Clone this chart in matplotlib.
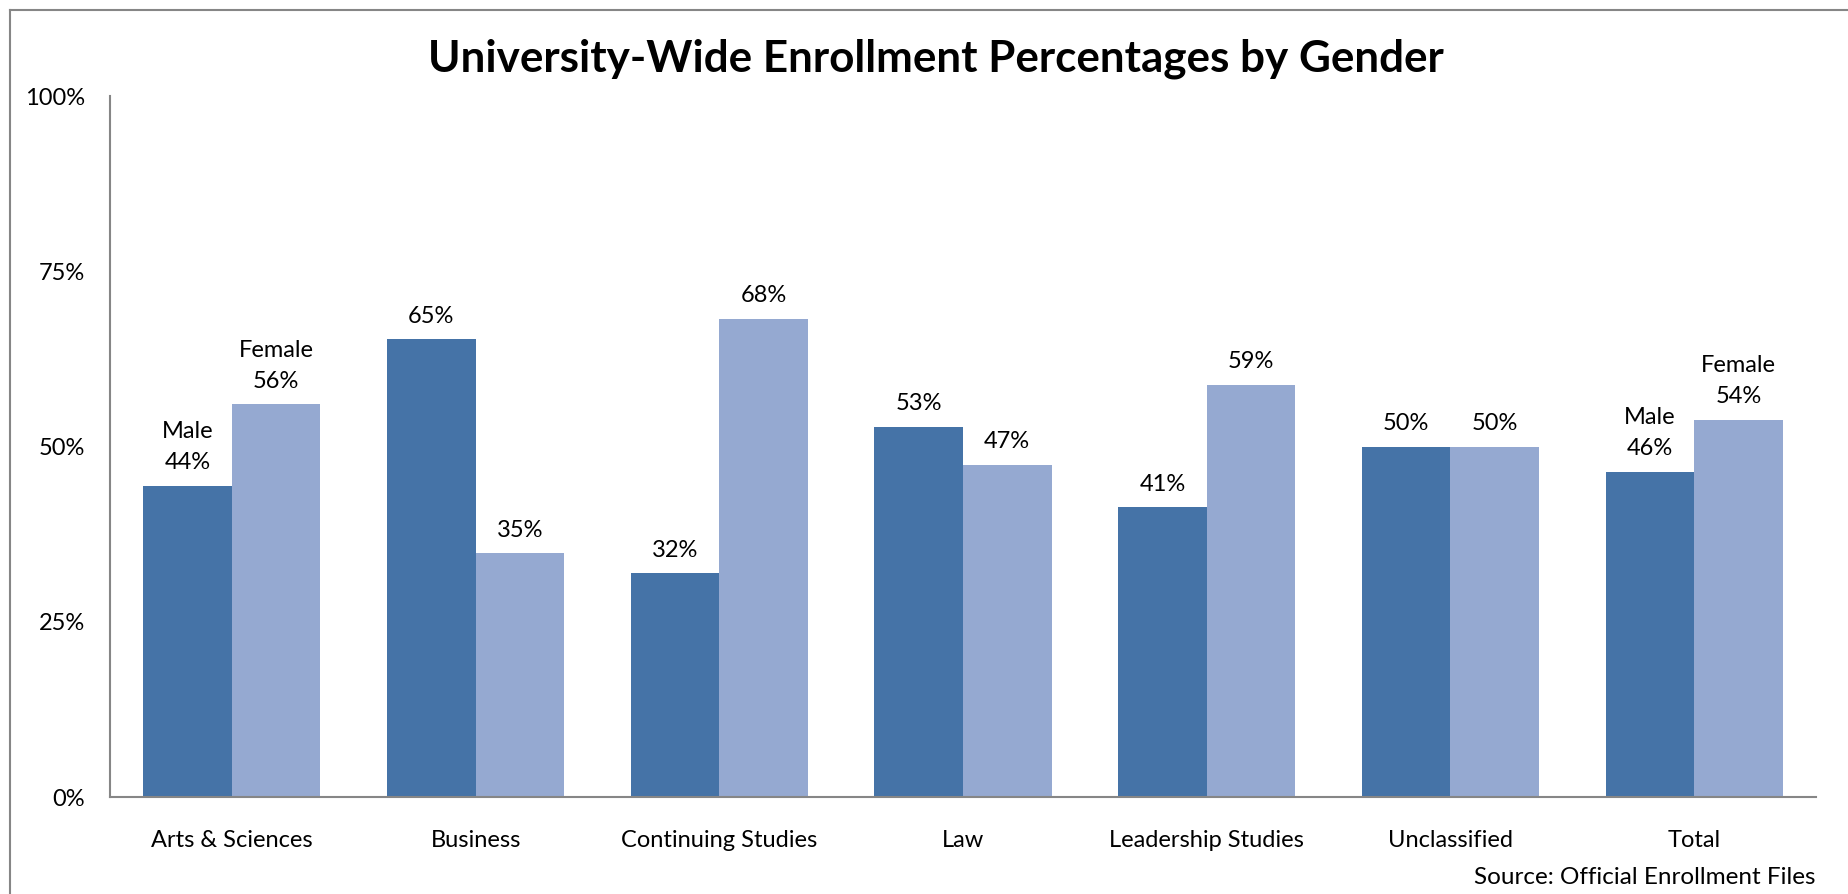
import numpy as np
import matplotlib.pyplot as plt
from matplotlib.lines import Line2D

# enrollment shares (%)
categories = ["Arts & Sciences", "Business", "Continuing Studies", "Law",
              "Leadership Studies", "Unclassified", "Total"]
male = [44.4, 65.3, 31.9, 52.8, 41.3, 50.0, 46.4]
female = [56.0, 34.8, 68.2, 47.4, 58.8, 50.0, 53.8]
yticks = [0, 25, 50, 75, 100]

title = "University-Wide Enrollment Percentages by Gender"
source = "Source: Official Enrollment Files"

male_color = "#4573A7"
female_color = "#95A9D1"
axis_color = "#868686"

plt.rcParams["font.family"] = ["Lato", "DejaVu Sans"]

fig = plt.figure(figsize=(18.48, 8.94), dpi=100)
ax = fig.add_axes([110 / 1848, 1 - 797 / 894, (1816 - 110) / 1848, (797 - 96) / 894])

x = np.arange(len(categories))
w = 1 / 2.75
bm = ax.bar(x - w / 2, male, width=w, color=male_color, linewidth=0)
bf = ax.bar(x + w / 2, female, width=w, color=female_color, linewidth=0)

# data labels, first and last group also carry the series name
last = len(categories) - 1
for i, (rm, rf) in enumerate(zip(bm, bf)):
    for rect, val, name in ((rm, male[i], "Male"), (rf, female[i], "Female")):
        txt = f"{val:.0f}%"
        if i in (0, last):
            txt = name + "\n" + txt
        ax.annotate(txt, (rect.get_x() + rect.get_width() / 2, rect.get_height()),
                    xytext=(0, 9), textcoords="offset points", ha="center", va="bottom",
                    fontsize=17, linespacing=1.6)

ax.set_xlim(-0.5, len(categories) - 0.5)
ax.set_ylim(0, 100)
ax.set_yticks(yticks)
ax.set_yticklabels([f"{t}%" for t in yticks])
ax.set_xticks(x)
ax.set_xticklabels(categories)
ax.tick_params(axis="y", length=0, pad=18, labelsize=17)
ax.tick_params(axis="x", length=0, pad=24, labelsize=17)

for s in ("top", "right"):
    ax.spines[s].set_visible(False)
for s in ("left", "bottom"):
    ax.spines[s].set_color(axis_color)
    ax.spines[s].set_linewidth(1.5)

fig.text(936 / 1848, 1 - 59 / 894, title, ha="center", va="center",
         fontsize=31.7, fontweight="bold")
fig.text(1815 / 1848, 1 - 878 / 894, source, ha="right", va="center", fontsize=17.5)

# chart area frame (only top and left edges visible in the crop)
bx, by = 10 / 1848, 1 - 10 / 894
fig.add_artist(Line2D([bx, 1], [by, by], color=axis_color, linewidth=1.5))
fig.add_artist(Line2D([bx, bx], [0, by], color=axis_color, linewidth=1.5))

fig.savefig("out.png", dpi=100)
